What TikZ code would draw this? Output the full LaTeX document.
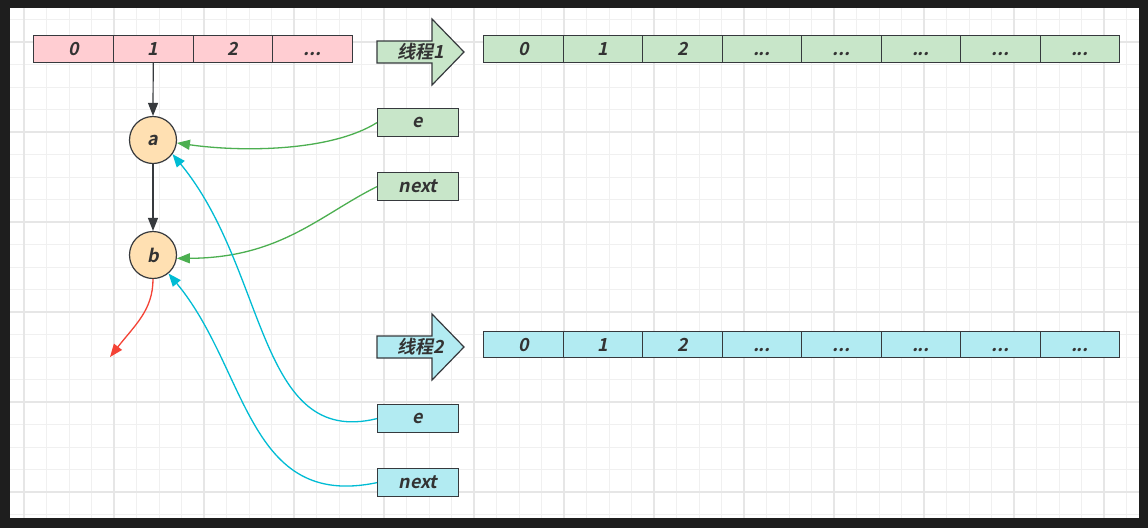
\documentclass[tikz,border=0pt]{standalone}
\usepackage{fontspec}
\usetikzlibrary{arrows.meta}
\newfontfamily\dfont{Noto Sans CJK SC Bold}[FakeSlant=0.2]
\definecolor{frame}{HTML}{1E1E1E}
\definecolor{gminor}{HTML}{F0F0F0}
\definecolor{gmajor}{HTML}{E6E6E6}
\definecolor{stroke}{HTML}{36393D}
\definecolor{txt}{HTML}{333333}
\definecolor{pinkf}{HTML}{FFCDD2}
\definecolor{greenf}{HTML}{C8E6C9}
\definecolor{bluef}{HTML}{B2EBF2}
\definecolor{orangef}{HTML}{FFE0B2}
\definecolor{gline}{HTML}{4CAF50}
\definecolor{bline}{HTML}{00BCD4}
\definecolor{rline}{HTML}{F44336}
\tikzset{
  lbl/.style={font=\dfont\fontsize{18}{18}\selectfont, text=txt},
  cell/.style={lbl, draw=stroke, line width=1.2pt, minimum height=27pt, inner sep=0pt, anchor=north west},
  circ/.style={lbl, circle, draw=stroke, line width=1.2pt, fill=orangef, minimum size=47pt, inner sep=0pt},
  tipa/.style={-{Triangle[length=13pt,width=10pt]}},
  blk/.style={tipa, draw=stroke, line width=1.2pt},
  garrow/.style={tipa, draw=gline, line width=1.3pt},
  barrow/.style={tipa, draw=bline, line width=1.3pt},
  rarrow/.style={tipa, draw=rline, line width=1.3pt},
  barrowshape/.style={draw=stroke, line width=1.2pt},
}
\begin{document}
\begin{tikzpicture}[x=1pt,y=-1pt]
\useasboundingbox (0,0) rectangle (1148,528);
\fill[frame] (0,0) rectangle (1148,528);
\fill[white] (10,8) rectangle (1139,518);
% grid
\begin{scope}
\clip (10,8) rectangle (1139,518);
\foreach \k in {0,...,49} {
  \pgfmathsetmacro\xx{24+22.5*\k}
  \draw[gminor, line width=0.8pt] (\xx,8) -- (\xx,518);
}
\foreach \k in {0,...,22} {
  \pgfmathsetmacro\yy{19.5+22.5*\k}
  \draw[gminor, line width=0.8pt] (10,\yy) -- (1139,\yy);
}
\foreach \k in {0,...,12} {
  \pgfmathsetmacro\xx{24+90*\k}
  \draw[gmajor, line width=1.2pt] (\xx,8) -- (\xx,518);
}
\foreach \k in {0,...,5} {
  \pgfmathsetmacro\yy{42+90*\k}
  \draw[gmajor, line width=1.2pt] (10,\yy) -- (1139,\yy);
}
\end{scope}
% pink array
\foreach \i in {0,...,3} {
  \pgfmathsetmacro\xx{33+79.75*\i}
  \node[cell, fill=pinkf, minimum width=79.75pt] (p\i) at (\xx,35) {\ifnum\i<3 \i\else\vphantom{0}...\fi};
}
% green array
\foreach \i in {0,...,7} {
  \pgfmathsetmacro\xx{483+79.5*\i}
  \node[cell, fill=greenf, minimum width=79.5pt] (g\i) at (\xx,35) {\ifnum\i<3 \i\else\vphantom{0}...\fi};
}
% blue array
\foreach \i in {0,...,7} {
  \pgfmathsetmacro\xx{483+79.5*\i}
  \node[cell, fill=bluef, minimum width=79.5pt, minimum height=26pt] (c\i) at (\xx,331) {\ifnum\i<3 \i\else\vphantom{0}...\fi};
}
% block arrows
\draw[barrowshape, fill=greenf] (377,41) -- (432,41) -- (432,19) -- (464,52) -- (432,85) -- (432,63) -- (377,63) -- cycle;
\node[lbl, inner sep=0pt] (t1) at (421,52) {线程1};
\draw[barrowshape, fill=bluef] (377,336) -- (432,336) -- (432,314) -- (464,347) -- (432,380) -- (432,358) -- (377,358) -- cycle;
\node[lbl, inner sep=0pt] (t2) at (421,347) {线程2};
% small boxes
\node[cell, fill=greenf, minimum width=81pt, minimum height=28pt] (ge) at (377,108) {e};
\node[cell, fill=greenf, minimum width=81pt, minimum height=28pt] (gn) at (377,172) {next};
\node[cell, fill=bluef, minimum width=81pt, minimum height=28pt] (be) at (377,404) {e};
\node[cell, fill=bluef, minimum width=81pt, minimum height=28pt] (bn) at (377,468) {next};
% circles
\node[circ] (a) at (153,140) {a};
\node[circ] (b) at (153,255) {b};
% black arrows
\draw[blk] (p1.south) -- (a.north);
\draw[blk] (a.south) -- (b.north);
% green connectors
\draw[garrow] (ge.west) .. controls (330,152) and (240,152) .. (a.-7);
\draw[garrow] (gn.west) .. controls (320,215) and (280,258) .. (b.-8);
% blue connectors
\draw[barrow] (be.west) .. controls (257,448) and (268,270) .. (a.-36);
\draw[barrow] (bn.west) .. controls (247,510) and (248,369) .. (b.-50);
% red connector
\coordinate (rend) at (110,357);
\draw[rarrow] (b.south) .. controls (153,310) and (135,325) .. (rend);
\end{tikzpicture}
\end{document}
